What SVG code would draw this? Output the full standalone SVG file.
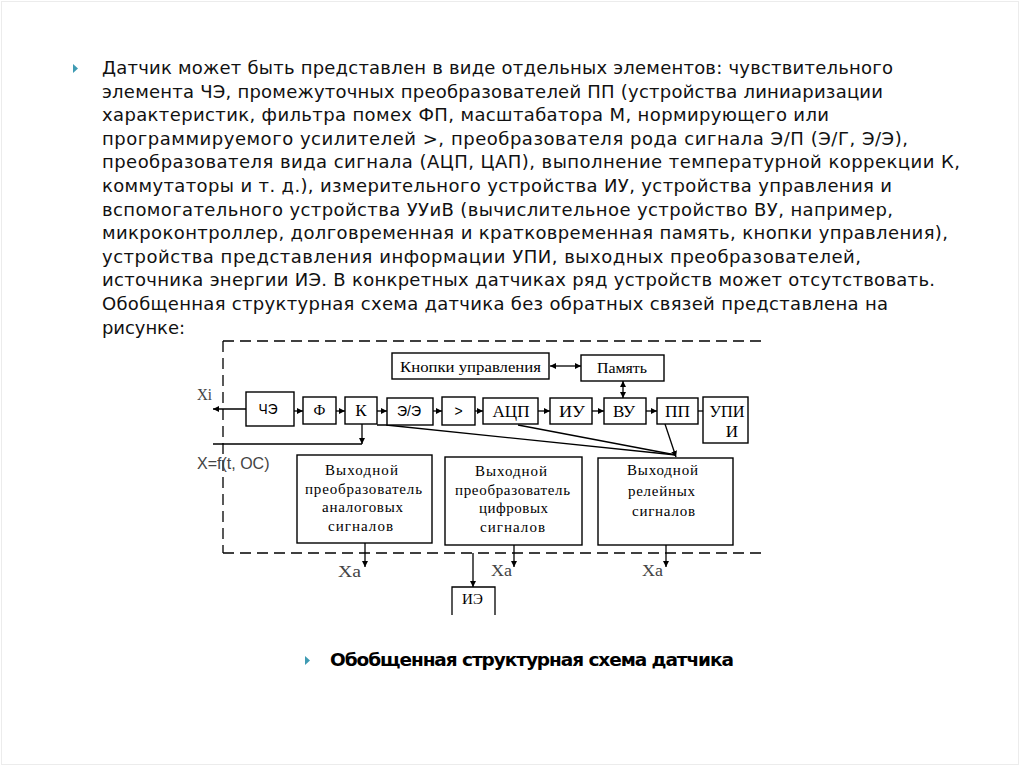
<svg xmlns="http://www.w3.org/2000/svg" width="1024" height="767" viewBox="0 0 1024 767">
<defs>
<marker id="ah" viewBox="0 0 6 6" refX="6" refY="3" markerWidth="6" markerHeight="6" markerUnits="userSpaceOnUse" orient="auto-start-reverse"><path d="M0,0 L6,3 L0,6 z" fill="#000"/></marker>
<style>
.body{font-family:"DejaVu Sans","Noto Sans",sans-serif;font-size:18px;fill:#111}
.cap{font-family:"DejaVu Sans","Noto Sans",sans-serif;font-size:18.5px;font-weight:bold;fill:#000}
.bx{fill:#fff;stroke:#000;stroke-width:1.4}
.t{font-family:"Liberation Serif","Times New Roman",serif;font-size:15px;fill:#000;text-anchor:middle}
.tb{font-family:"Liberation Serif","Times New Roman",serif;font-size:17px;fill:#000;text-anchor:middle}
.ts{font-family:"Liberation Sans",Arial,sans-serif;font-size:14px;fill:#000;text-anchor:middle}
.lbl{font-family:"Liberation Serif","Times New Roman",serif;font-size:16px;fill:#444}
.ln{fill:none;stroke:#000;stroke-width:1.3}
.ar{fill:none;stroke:#000;stroke-width:1.3;marker-end:url(#ah)}
.dar{fill:none;stroke:#000;stroke-width:1.3;marker-end:url(#ah);marker-start:url(#ah)}
.dash{fill:none;stroke:#000;stroke-width:1.3;stroke-dasharray:11 6}
.bul{fill:#3f9bb3}
</style>
</defs>
<rect x="0" y="0" width="1024" height="767" fill="#fff"/>
<rect x="1.5" y="1.5" width="1017" height="763" fill="none" stroke="#ececec" stroke-width="1"/>

<g id="text">
<path class="bul" d="M73,64 L78,68.5 L73,73 z"/>
<text class="body" x="102" y="74" textLength="791">Датчик может быть представлен в виде отдельных элементов: чувствительного</text>
<text class="body" x="102" y="97.6" textLength="781">элемента ЧЭ, промежуточных преобразователей ПП (устройства линиаризации</text>
<text class="body" x="102" y="121.2" textLength="727">характеристик, фильтра помех ФП, масштабатора М, нормирующего или</text>
<text class="body" x="102" y="144.8" textLength="806">программируемого усилителей &gt;, преобразователя рода сигнала Э/П (Э/Г, Э/Э),</text>
<text class="body" x="102" y="168.4" textLength="858">преобразователя вида сигнала (АЦП, ЦАП), выполнение температурной коррекции К,</text>
<text class="body" x="102" y="192" textLength="790">коммутаторы и т. д.), измерительного устройства ИУ, устройства управления и</text>
<text class="body" x="102" y="215.6" textLength="791">вспомогательного устройства УУиВ (вычислительное устройство ВУ, например,</text>
<text class="body" x="102" y="239.2" textLength="846">микроконтроллер, долговременная и кратковременная память, кнопки управления),</text>
<text class="body" x="102" y="262.8" textLength="759">устройства представления информации УПИ, выходных преобразователей,</text>
<text class="body" x="102" y="286.4" textLength="833">источника энергии ИЭ. В конкретных датчиках ряд устройств может отсутствовать.</text>
<text class="body" x="102" y="310" textLength="786">Обобщенная структурная схема датчика без обратных связей представлена на</text>
<text class="body" x="102" y="333.6" textLength="83">рисунке:</text>
</g>

<g id="frame">
<path class="dash" d="M223,341 H764"/>
<path class="dash" d="M223,341 V553"/>
<path class="dash" d="M223,553 H764"/>
</g>

<g id="connectors">
<path class="ar" d="M246,409 H213"/>
<path class="ar" d="M294,411 H303"/>
<path class="ar" d="M336,411 H345"/>
<path class="ar" d="M377,411 H387"/>
<path class="ar" d="M433,411 H442"/>
<path class="ar" d="M475,411 H483"/>
<path class="ar" d="M538,411 H550"/>
<path class="ar" d="M592,411 H604"/>
<path class="ar" d="M646,411 H657"/>
<path class="ln" d="M698,411 H703"/>
<path class="dar" d="M550,366 H581"/>
<path class="dar" d="M623,381 V398"/>
<path class="ar" d="M362,424 V444"/>
<path class="ln" d="M213,444 H362"/>
<path class="ln" d="M377,425 H386 L676,455"/>
<path class="ln" d="M518,425 L676,455"/>
<path class="ar" d="M665,424 L676,457"/>
<path class="ar" d="M365,543 V567"/>
<path class="ar" d="M514,545 V567"/>
<path class="ar" d="M666,545 V567"/>
<path class="ar" d="M473,553 V587"/>
</g>

<g id="n-buttons"><rect class="bx" x="392" y="353" width="157" height="26"/><text class="t" x="470.5" y="372" font-size="16" textLength="141" lengthAdjust="spacingAndGlyphs">Кнопки управления</text></g>
<g id="n-memory"><rect class="bx" x="581" y="355" width="83" height="26"/><text class="t" x="622" y="373" font-size="16" textLength="50" lengthAdjust="spacingAndGlyphs">Память</text></g>
<g id="n-che"><rect class="bx" x="246" y="392" width="48" height="34"/><text class="ts" x="268" y="414" font-size="15" textLength="19" lengthAdjust="spacingAndGlyphs">ЧЭ</text></g>
<g id="n-f"><rect class="bx" x="303" y="397" width="33" height="27"/><text class="t" x="319.5" y="415" font-size="14">Ф</text></g>
<g id="n-k"><rect class="bx" x="345" y="397" width="32" height="27"/><text class="tb" x="361" y="416">К</text></g>
<g id="n-ee"><rect class="bx" x="387" y="398" width="46" height="27"/><text class="ts" x="409" y="416" font-size="15">Э/Э</text></g>
<g id="n-amp"><rect class="bx" x="442" y="397" width="33" height="28"/><text class="ts" x="458.5" y="416">&gt;</text></g>
<g id="n-adc"><rect class="bx" x="483" y="398" width="55" height="26"/><text class="tb" x="511" y="417" textLength="37" lengthAdjust="spacingAndGlyphs">АЦП</text></g>
<g id="n-iu"><rect class="bx" x="550" y="398" width="42" height="26"/><text class="tb" x="572" y="417" textLength="26" lengthAdjust="spacingAndGlyphs">ИУ</text></g>
<g id="n-vu"><rect class="bx" x="604" y="398" width="42" height="26"/><text class="tb" x="624" y="417" textLength="22" lengthAdjust="spacingAndGlyphs">ВУ</text></g>
<g id="n-pp"><rect class="bx" x="657" y="398" width="41" height="26"/><text class="tb" x="677.5" y="417" textLength="25" lengthAdjust="spacingAndGlyphs">ПП</text></g>
<g id="n-upi"><rect class="bx" x="703" y="397" width="45" height="46"/><text class="tb" x="727" y="417" textLength="35" lengthAdjust="spacingAndGlyphs">УПИ</text><text class="tb" x="732" y="437">И</text></g>

<g id="n-out-analog"><rect class="bx" x="297" y="455" width="135" height="88"/>
<text class="t" x="361.5" y="475" textLength="73">Выходной</text><text class="t" x="363.5" y="494" textLength="117">преобразователь</text><text class="t" x="362.5" y="512" textLength="81">аналоговых</text><text class="t" x="360.5" y="531" textLength="65">сигналов</text></g>
<g id="n-out-digital"><rect class="bx" x="445" y="457" width="137" height="88"/>
<text class="t" x="511" y="476" textLength="72">Выходной</text><text class="t" x="512.5" y="495" textLength="115">преобразователь</text><text class="t" x="513.5" y="513" textLength="69">цифровых</text><text class="t" x="512.5" y="532" textLength="65">сигналов</text></g>
<g id="n-out-relay"><rect class="bx" x="598" y="458" width="135" height="87"/>
<text class="t" x="662.5" y="475" textLength="71">Выходной</text><text class="t" x="661.5" y="496" textLength="67">релейных</text><text class="t" x="663.5" y="516" textLength="63">сигналов</text></g>
<g id="n-ie"><path class="ln" d="M452,615 V587 H495 V615"/><text class="t" x="472.5" y="604" textLength="21">ИЭ</text></g>

<g id="labels">
<text class="lbl" x="197" y="400" textLength="15" lengthAdjust="spacingAndGlyphs">Xi</text>
<text class="lbl" x="197" y="469" font-size="14.5" style="font-family:'Liberation Sans',Arial,sans-serif">X=f(t, OC)</text>
<text class="lbl" x="338" y="577" textLength="23" lengthAdjust="spacingAndGlyphs">Xa</text>
<text class="lbl" x="491" y="576" textLength="21" lengthAdjust="spacingAndGlyphs">Xa</text>
<text class="lbl" x="642" y="576" textLength="21" lengthAdjust="spacingAndGlyphs">Xa</text>
</g>

<g id="caption">
<path class="bul" d="M305,656 L310,660.5 L305,665 z"/>
<text class="cap" x="330" y="666" textLength="404">Обобщенная структурная схема датчика</text>
</g>
</svg>
